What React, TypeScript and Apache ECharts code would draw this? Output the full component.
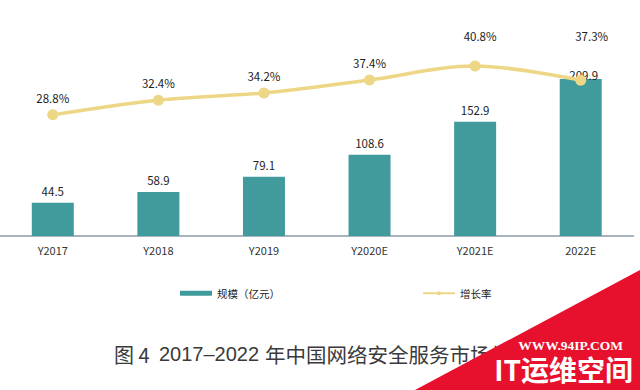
import React, { useEffect, useRef } from "react";
import * as echarts from "echarts";

const categories = ["Y2017", "Y2018", "Y2019", "Y2020E", "Y2021E", "2022E"];
const scaleValues = [44.5, 58.9, 79.1, 108.6, 152.9, 209.9];
const growthValues = [28.8, 32.4, 34.2, 37.4, 40.8, 37.3];
const scaleName = "规模（亿元）";
const growthName = "增长率";
const titleParts = ["图 4", "2017–2022", "年中国网络安全服务市场规模"];

const FONT = "'Noto Sans CJK SC', 'Noto Sans', sans-serif";
const LATIN = "'Liberation Sans', Arial, sans-serif";

export default function App() {
  const ref = useRef<HTMLDivElement>(null);
  useEffect(() => {
    if (!ref.current) return;
    const chart = echarts.init(ref.current, undefined, { renderer: "svg" });
    const barData = scaleValues.map((v, i) =>
      i === scaleValues.length - 1
        ? { value: v, label: { offset: [3, 8] } }
        : { value: v }
    );
    const lineOffsets: Record<number, number[]> = { 4: [5, -13], 5: [11, -27] };
    const lineData = growthValues.map((v, i) =>
      lineOffsets[i] ? { value: v, label: { offset: lineOffsets[i] } } : { value: v }
    );
    const titleStyle = { fontSize: 20, fill: "#3a3a3a", verticalAlign: "middle" };
    chart.setOption({
      animation: false,
      backgroundColor: "#ffffff",
      textStyle: { fontFamily: FONT },
      grid: { left: 0, right: 6.5, top: 49, bottom: 154, containLabel: false },
      legend: {
        left: 175,
        top: 283,
        itemGap: 142,
        itemWidth: 32,
        itemHeight: 5,
        textStyle: { fontSize: 10.5, color: "#222", fontFamily: FONT },
        data: [
          { name: scaleName, icon: "rect" },
          { name: growthName },
        ],
      },
      xAxis: {
        type: "category",
        data: categories,
        axisLine: { lineStyle: { color: "#8a9ba8", width: 1.5 } },
        axisTick: { show: false },
        axisLabel: { fontSize: 11, color: "#333", margin: 8, fontFamily: FONT },
      },
      yAxis: [
        { type: "value", min: 0, max: 250, show: false, splitLine: { show: false } },
        { type: "value", min: -1, max: 45, show: false, splitLine: { show: false } },
      ],
      series: [
        {
          name: scaleName,
          type: "bar",
          data: barData,
          barWidth: 42,
          itemStyle: { color: "#419b9c" },
          label: {
            show: true,
            position: "top",
            distance: 6,
            fontSize: 11.5,
            color: "#222",
            fontFamily: FONT,
          },
          z: 2,
        },
        {
          name: growthName,
          type: "line",
          yAxisIndex: 1,
          data: lineData,
          smooth: 0.35,
          symbol: "circle",
          symbolSize: 11,
          lineStyle: { color: "#edd686", width: 3.5 },
          itemStyle: { color: "#edd686" },
          label: {
            show: true,
            position: "top",
            distance: 6,
            fontSize: 11.5,
            color: "#222",
            fontFamily: FONT,
            formatter: (p: any) => p.value.toFixed(1) + "%",
          },
          z: 3,
        },
      ],
      graphic: [
        {
          type: "text",
          z: 10,
          x: 114,
          y: 354,
          style: { ...titleStyle, text: titleParts[0], fontFamily: FONT },
        },
        {
          type: "text",
          z: 10,
          x: 159,
          y: 354,
          style: { ...titleStyle, text: titleParts[1], fontFamily: LATIN },
        },
        {
          type: "text",
          z: 10,
          x: 265,
          y: 354,
          style: { ...titleStyle, fontSize: 20.5, text: titleParts[2], fontFamily: FONT },
        },
        {
          type: "polygon",
          z: 20,
          shape: { points: [[415, 390], [640, 270], [640, 390]] },
          style: { fill: "#e8112d" },
        },
        {
          type: "text",
          z: 21,
          x: 623,
          y: 345,
          style: {
            text: "WWW.94IP.COM",
            fontSize: 13.5,
            lineHeight: 14,
            fontWeight: "bold",
            fontFamily: "'Liberation Serif', 'DejaVu Serif', serif",
            fill: "#ffffff",
            align: "right",
            verticalAlign: "middle",
          },
        },
        {
          type: "text",
          z: 21,
          x: 633,
          y: 369,
          style: {
            text: "IT运维空间",
            fontSize: 28,
            lineHeight: 28,
            fontWeight: "bold",
            fontFamily: FONT,
            fill: "#ffffff",
            align: "right",
            verticalAlign: "middle",
          },
        },
      ],
    });
    return () => chart.dispose();
  }, []);
  return (
    <div
      ref={ref}
      style={{ position: "fixed", left: 0, top: 0, width: 640, height: 390, background: "#fff" }}
    />
  );
}
